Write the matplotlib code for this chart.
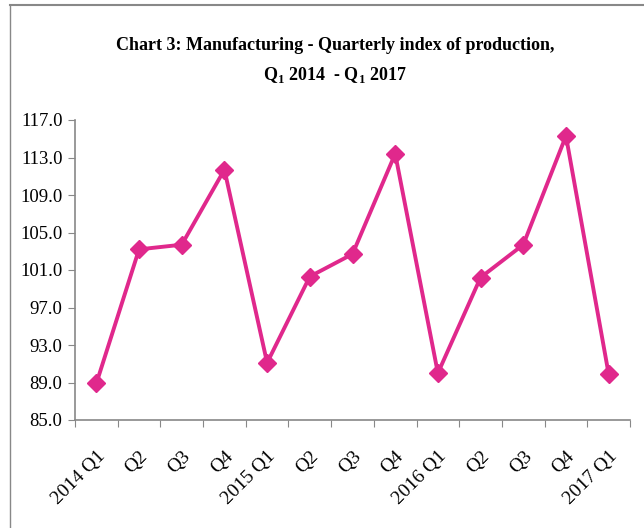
import matplotlib
matplotlib.use("Agg")
import matplotlib.pyplot as plt
from matplotlib.lines import Line2D

categories = ["2014 Q1", "Q2", "Q3", "Q4", "2015 Q1", "Q2", "Q3", "Q4",
              "2016 Q1", "Q2", "Q3", "Q4", "2017 Q1"]
values = [88.9, 103.2, 103.7, 111.7, 91.1, 100.3, 102.7, 113.4,
          90.0, 100.2, 103.7, 115.3, 89.9]
yticks = [85.0, 89.0, 93.0, 97.0, 101.0, 105.0, 109.0, 113.0, 117.0]

plt.rcParams['font.family'] = ['Liberation Serif', 'DejaVu Serif']
plt.rcParams['mathtext.fontset'] = 'custom'
plt.rcParams['mathtext.rm'] = 'Liberation Serif'
plt.rcParams['mathtext.bf'] = 'Liberation Serif:bold'

fig = plt.figure(figsize=(6.44, 5.28), dpi=100)
ax = fig.add_axes([75/644, 1-420/528, (630-75)/644, 300/528])

color = '#E0288C'
x = list(range(len(categories)))
ax.plot(x, values, color=color, lw=2.8, marker='D', ms=9.5, mec=color, mfc=color)

ax.set_ylim(85, 117)
ax.set_yticks(yticks)
ax.set_yticklabels([f"{v:.1f}" for v in yticks], fontsize=13.5)
ax.set_xlim(-0.5, len(categories) - 0.5)
ax.set_xticks([i - 0.5 for i in range(len(categories) + 1)])
ax.set_xticklabels([])
ax.set_xticks(x, minor=True)
ax.set_xticklabels(categories, minor=True, rotation=45, ha='right',
                   rotation_mode='anchor', fontsize=14)
ax.tick_params(axis='x', which='minor', length=0, pad=20)
ax.tick_params(axis='x', which='major', length=5, color='#888888', direction='out')
ax.tick_params(axis='y', length=5, color='#888888', direction='out', pad=4)

for s in ['top', 'right']:
    ax.spines[s].set_visible(False)
for s in ['left', 'bottom']:
    ax.spines[s].set_color('#888888')
    ax.spines[s].set_linewidth(1.2)

fig.text(335/644, 1-46/528, "Chart 3: Manufacturing - Quarterly index of production,",
         ha='center', va='center', fontsize=13, fontweight='bold')
fig.text(335/644, 1-75/528, r"Q$_\mathbf{1}$ 2014  - Q$_\mathbf{1}$ 2017",
         ha='center', va='center', fontsize=13, fontweight='bold')

# chart border (top and left visible)
fig.add_artist(Line2D([10/644, 1], [1-4.5/528, 1-4.5/528], transform=fig.transFigure,
                      color='#888888', lw=1.5))
fig.add_artist(Line2D([10/644, 10/644], [0, 1-4.5/528], transform=fig.transFigure,
                      color='#888888', lw=1.0))

fig.savefig("out.png", dpi=100)
